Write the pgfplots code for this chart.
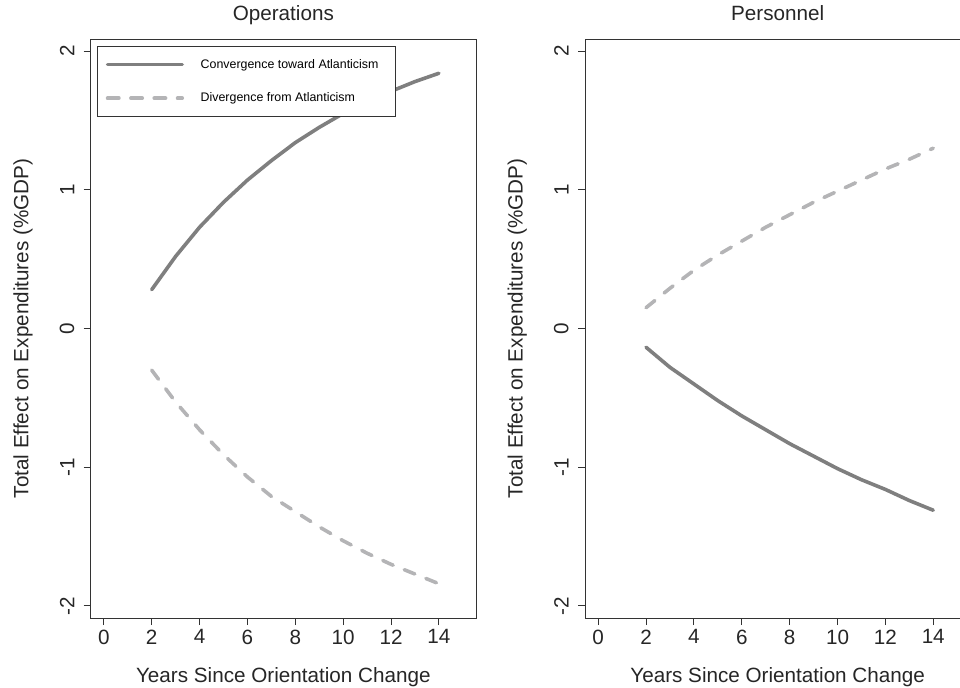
\documentclass[border=0pt]{standalone}
\usepackage{fontspec}
\setmainfont{Liberation Sans}
\usepackage{pgfplots}
\pgfplotsset{compat=1.18}
\definecolor{solidc}{HTML}{7F7F7F}
\definecolor{dashc}{HTML}{B4B4B6}
\definecolor{boxc}{HTML}{333333}
\pgfplotsset{
  panel/.style={
    scale only axis, width=289pt, height=434.25pt,
    xmin=-0.55, xmax=15.55, ymin=-2.087, ymax=2.087,
    xtick={0,2,4,6,8,10,12,14},
    ytick={-2,-1,0,1,2}, yticklabels={-2,-1,0,1,2},
    xtick pos=left, ytick pos=left,
    tick align=outside, major tick length=5.25pt,
    tick style={boxc, line width=0.75pt},
    axis line style={boxc, line width=0.75pt},
    /pgf/number format/assume math mode=true,
    ticklabel style={font=\fontsize{15.5}{18}\selectfont, text=black!85},
    yticklabel style={rotate=90, anchor=south},
    yticklabel shift=3.5pt,
    label style={font=\fontsize{15.5}{18}\selectfont, text=black!85},
    xlabel style={at={(axis description cs:0.5,-0.102)}, anchor=center},
    ylabel style={at={(axis description cs:-0.1757,0.5)}, rotate=0, anchor=center},
    title style={at={(axis description cs:0.5,1)}, anchor=base, yshift=8.25pt, font=\fontsize{15.5}{18}\selectfont, text=black!85},
    xlabel={Years Since Orientation Change},
    ylabel={Total Effect on Expenditures (\%GDP)},
    clip=true,
  },
  solidline/.style={solidc, line width=2.7pt, line cap=round, line join=round},
  dashline/.style={dashc, line width=2.7pt, line cap=round, line join=round, dash pattern=on 8.5pt off 9pt},
}
\begin{document}
\begin{tikzpicture}
\begin{axis}[panel, at={(68pt,-29.25pt)}, anchor=north west, title={Operations},
  legend style={at={(axis description cs:0.0171,0.988)}, anchor=north west,
    draw=boxc, line width=0.75pt, fill=white, inner xsep=6pt, inner ysep=7.5pt,
    row sep=13pt, font=\fontsize{9.3}{11}\selectfont,
    /tikz/every odd column/.append style={column sep=10.5pt}},
  legend cell align=left,
  legend image code/.code={\draw[#1] (0pt,0pt) -- (56pt,0pt);},
]
\addplot[solidline] coordinates {
(2,0.28) (3,0.52) (4,0.73) (5,0.91) (6,1.07) (7,1.21) (8,1.34) (9,1.45) (10,1.55) (11,1.63) (12,1.71) (13,1.78) (14,1.84)};
\addlegendentry{Convergence toward Atlanticism\rule{4.5pt}{0pt}}
\addplot[dashline] coordinates {
(2,-0.30) (3,-0.53) (4,-0.73) (5,-0.91) (6,-1.07) (7,-1.21) (8,-1.32) (9,-1.43) (10,-1.53) (11,-1.62) (12,-1.70) (13,-1.77) (14,-1.84)};
\addlegendentry{Divergence from Atlanticism}
\end{axis}
\begin{axis}[panel, at={(438.75pt,-29.25pt)}, anchor=north west, title={Personnel}]
\addplot[dashline] coordinates {
(2,0.15) (3,0.29) (4,0.42) (5,0.53) (6,0.63) (7,0.73) (8,0.82) (9,0.91) (10,0.99) (11,1.07) (12,1.15) (13,1.22) (14,1.30)};
\addplot[solidline] coordinates {
(2,-0.135) (3,-0.28) (4,-0.40) (5,-0.52) (6,-0.63) (7,-0.73) (8,-0.83) (9,-0.92) (10,-1.01) (11,-1.09) (12,-1.16) (13,-1.24) (14,-1.31)};
\end{axis}
\pgfresetboundingbox
\path[use as bounding box] (0pt,0pt) rectangle (720pt,-515.25pt);
\end{tikzpicture}
\end{document}
